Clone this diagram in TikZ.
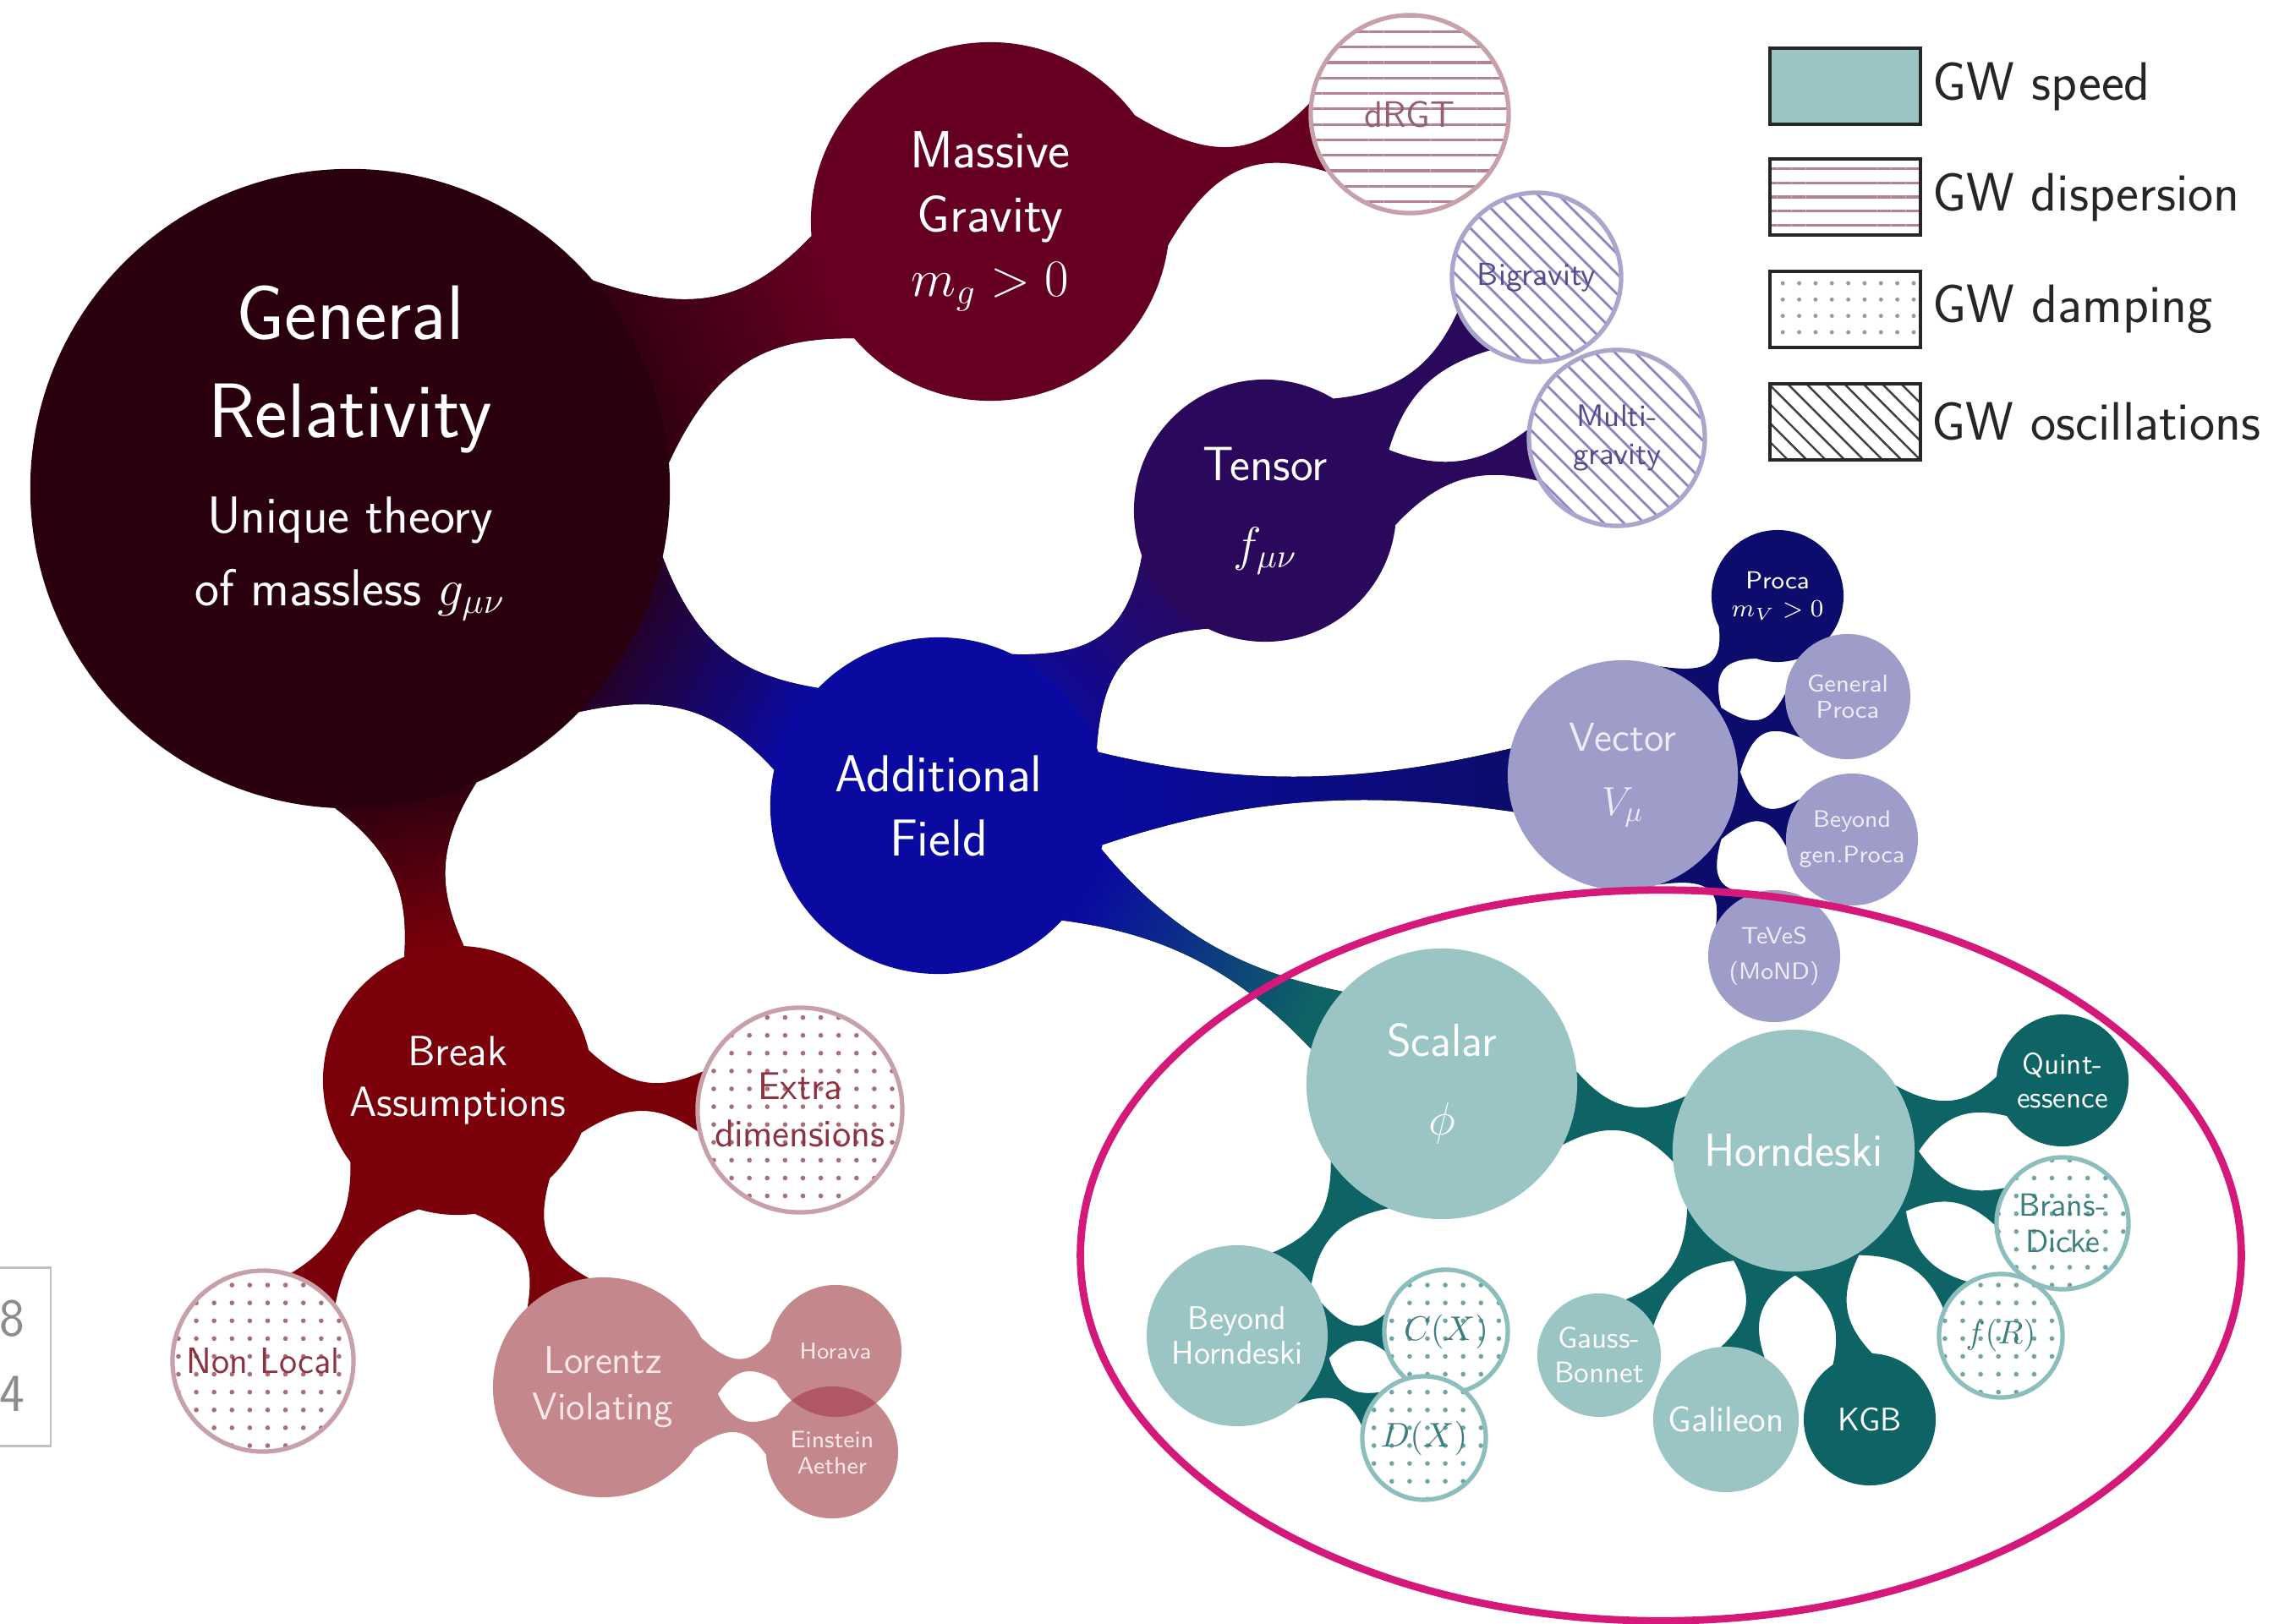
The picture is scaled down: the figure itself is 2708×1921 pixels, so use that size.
\RequirePackage{fix-cm}
\documentclass[tikz,border=0pt]{standalone}
\usetikzlibrary{positioning,calc,backgrounds,patterns.meta}

\definecolor{grc}{RGB}{42,0,16}
\definecolor{mgc}{RGB}{102,0,32}
\definecolor{tnc}{RGB}{42,8,92}
\definecolor{afc}{RGB}{10,10,160}
\definecolor{nvc}{RGB}{12,12,108}
\definecolor{vcc}{RGB}{158,156,200}
\definecolor{slc}{RGB}{155,196,196}
\definecolor{dtc}{RGB}{14,100,100}
\definecolor{bac}{RGB}{122,0,10}
\definecolor{lvc}{RGB}{196,135,140}
\definecolor{lvo}{RGB}{176,88,100}
\definecolor{elc}{RGB}{212,25,122}
% hatching and text colours
\definecolor{rsl}{RGB}{180,130,145}
\definecolor{rsb}{RGB}{200,160,168}
\definecolor{rsd}{RGB}{170,110,120}
\definecolor{hxl}{RGB}{140,135,190}
\definecolor{hxb}{RGB}{170,165,205}
\definecolor{tdd}{RGB}{110,165,165}
\definecolor{tdb}{RGB}{140,190,190}
\definecolor{drt}{RGB}{150,95,110}
\definecolor{bit}{RGB}{85,75,140}
\definecolor{edt}{RGB}{140,50,65}
\definecolor{sct}{RGB}{60,125,125}
\definecolor{lvt}{RGB}{250,232,234}
\definecolor{vct}{RGB}{236,236,248}

\newcommand\fsz[2]{\fontsize{#1}{#2}\selectfont}

% neck between two bubbles: [fill]{from}{to}{width}{spread angle}
\newcommand\neck[5][black]{%
  \fill[#1] let \p1=(#2.center), \p2=(#3.center), \p3=(#2.east), \p4=(#3.east),
    \n1={atan2(\y2-\y1,\x2-\x1)}, \n2={\x3-\x1}, \n3={\x4-\x2},
    \n4={veclen(\x2-\x1,\y2-\y1)-\n2-\n3},
    \n5={(#4/2-(\n2+\n3)*sin(#5)/8)/0.75},
    \n6={\n2+0.35*\n4}, \n7={\n3+0.35*\n4} in
    ({\x1+\n2*cos(\n1+#5)},{\y1+\n2*sin(\n1+#5)})
    .. controls ({\x1+\n6*cos(\n1)-\n5*sin(\n1)},{\y1+\n6*sin(\n1)+\n5*cos(\n1)})
    and ({\x2-\n7*cos(\n1)-\n5*sin(\n1)},{\y2-\n7*sin(\n1)+\n5*cos(\n1)})
    .. ({\x2-\n3*cos(\n1-#5)},{\y2-\n3*sin(\n1-#5)})
    -- ({\x2-\n3*cos(\n1+#5)},{\y2-\n3*sin(\n1+#5)})
    .. controls ({\x2-\n7*cos(\n1)+\n5*sin(\n1)},{\y2-\n7*sin(\n1)-\n5*cos(\n1)})
    and ({\x1+\n6*cos(\n1)+\n5*sin(\n1)},{\y1+\n6*sin(\n1)-\n5*cos(\n1)})
    .. ({\x1+\n2*cos(\n1-#5)},{\y1+\n2*sin(\n1-#5)}) -- cycle;}

\tikzset{
  bub/.style={circle, inner sep=0pt, outer sep=0pt, minimum size=#1},
  txt/.style={align=center, text=white},
  dis/.style={preaction={fill=white}, draw=rsb, line width=1.5pt,
    pattern={Lines[distance=5.2pt, line width=0.9pt]}, pattern color=rsl},
  dmp/.style 2 args={preaction={fill=white}, draw=#2, line width=1.5pt,
    pattern={Dots[distance=6pt, radius=0.8pt]}, pattern color=#1},
  osc/.style={preaction={fill=white}, draw=hxb, line width=1.5pt,
    pattern={Lines[angle=-45, distance=4.8pt, line width=0.8pt]}, pattern color=hxl},
  legbox/.style={rectangle, draw=black!85, line width=1.3pt,
    minimum width=1.78cm, minimum height=0.9cm},
  legtxt/.style={font=\sffamily\fsz{18.2}{20}, text=black!85},
}

\begin{document}
\begin{tikzpicture}[x=0.01cm, y=-0.01cm]
\useasboundingbox (0,0) rectangle (2708,1921);

% general relativity, massive gravity, tensor
\node[bub=7.56cm, fill=grc,
  label={[txt, font=\sffamily\fsz{26}{33}, yshift=1.41cm]center:General\\Relativity},
  label={[txt, font=\sffamily\fsz{17.5}{24.5}, yshift=-0.83cm]center:Unique theory\\of massless $g_{\mu\nu}$}] (gr) at (414,578) {};
\node[bub=4.24cm, fill=mgc, label={[txt, font=\sffamily\fsz{17.6}{21.6}]center:Massive\\Gravity\\$m_g>0$}] (mg) at (1171,262) {};
\node[bub=2.34cm, dis, label={[txt, text=drt, font=\sffamily\fsz{12.4}{14}]center:dRGT}] (drgt) at (1667,135) {};
\node[bub=3.10cm, fill=tnc, label={[txt, font=\sffamily\fsz{16.2}{27}]center:Tensor\\$f_{\mu\nu}$}] (tn) at (1496,604) {};
\node[bub=2.00cm, osc, label={[txt, text=bit, font=\sffamily\fsz{10.7}{12}]center:Bigravity}] (bi) at (1817,328) {};
\node[bub=2.08cm, osc, label={[txt, text=bit, font=\sffamily\fsz{10.5}{13}]center:Multi-\\gravity}] (mu) at (1912,518) {};

% additional field and vector
\node[bub=3.98cm, fill=afc, label={[txt, font=\sffamily\fsz{17.5}{21.6}]center:Additional\\Field}] (af) at (1110,953) {};
\node[bub=2.72cm, fill=vcc, label={[txt, text=vct, font=\sffamily\fsz{13.6}{21.6}]center:Vector\\$V_\mu$}] (vc) at (1919,917) {};
\node[bub=1.56cm, fill=nvc, label={[txt, font=\sffamily\fsz{8.3}{9.5}]center:Proca\\$m_V>0$}] (pr) at (2102,705) {};
\node[bub=1.48cm, fill=vcc, label={[txt, text=vct, font=\sffamily\fsz{8.2}{8.6}]center:General\\Proca}] (gp) at (2185,824) {};
\node[bub=1.56cm, fill=vcc, label={[txt, text=vct, font=\sffamily\fsz{8}{12}]center:Beyond\\gen.Proca}] (bgp) at (2190,993) {};
\node[bub=1.56cm, fill=vcc, label={[txt, text=vct, font=\sffamily\fsz{8}{11.8}]center:TeVeS\\(MoND)}] (tv) at (2098,1131) {};

% scalar
\node[bub=3.20cm, fill=slc, label={[txt, font=\sffamily\fsz{15.6}{26.5}]center:Scalar\\$\phi$}] (sc) at (1705,1282) {};
\node[bub=2.86cm, fill=slc, label={[txt, font=\sffamily\fsz{15.6}{18}]center:Horndeski}] (hd) at (2121,1361) {};
\node[bub=1.56cm, fill=dtc, label={[txt, font=\sffamily\fsz{10}{11.3}]center:Quint-\\essence}] (qu) at (2439,1278) {};
\node[bub=1.56cm, dmp={tdd}{tdb}, label={[txt, text=sct, font=\sffamily\fsz{10.8}{12}]center:Brans-\\Dicke}] (bd) at (2439,1447) {};
\node[bub=1.46cm, dmp={tdd}{tdb}, label={[txt, text=sct, font=\fsz{11}{12}]center:$f(R)$}] (fr) at (2366,1580) {};
\node[bub=1.56cm, fill=dtc, label={[txt, font=\sffamily\fsz{11}{12}]center:KGB}] (kgb) at (2211,1679) {};
\node[bub=1.72cm, fill=slc, label={[txt, font=\sffamily\fsz{12}{13}]center:Galileon}] (gal) at (2041,1679) {};
\node[bub=1.46cm, fill=slc, label={[txt, font=\sffamily\fsz{10}{11.8}]center:Gauss-\\Bonnet}] (gb) at (1891,1603) {};
\node[bub=2.14cm, fill=slc, label={[txt, font=\sffamily\fsz{11}{11.8}]center:Beyond\\Horndeski}] (bh) at (1463,1580) {};
\node[bub=1.46cm, dmp={tdd}{tdb}, label={[txt, text=sct, font=\fsz{11.5}{12}]center:$C(X)$}] (cx) at (1710,1575) {};
\node[bub=1.46cm, dmp={tdd}{tdb}, label={[txt, text=sct, font=\fsz{11.5}{12}]center:$D(X)$}] (dx) at (1684,1701) {};

% break assumptions
\node[bub=3.18cm, fill=bac, label={[txt, font=\sffamily\fsz{14.2}{17}]center:Break\\Assumptions}] (ba) at (541,1278) {};
\node[bub=2.42cm, dmp={rsd}{rsb}, label={[txt, text=edt, font=\sffamily\fsz{13}{15.7}]center:Extra\\dimensions}] (ed) at (946,1313) {};
\node[bub=2.14cm, dmp={rsd}{rsb}, label={[txt, text=edt, font=\sffamily\fsz{12.3}{14}]center:Non Local}] (nl) at (311,1610) {};
\node[bub=2.60cm, fill=lvc, label={[txt, text=lvt, font=\sffamily\fsz{13}{15.5}]center:Lorentz\\Violating}] (lv) at (713,1641) {};
\node[bub=1.56cm, fill=lvc, label={[txt, text=lvt, font=\sffamily\fsz{7.7}{9}]center:Horava}] (hv) at (988,1598) {};
\node[bub=1.56cm, fill=lvc, label={[txt, text=lvt, font=\sffamily\fsz{8}{8.8}]center:Einstein\\Aether}] (ea) at (984,1718) {};
\begin{scope}
  \clip (hv.center) circle [radius=0.78cm];
  \fill[lvo] (ea.center) circle [radius=0.78cm];
\end{scope}

% necks
\begin{scope}[on background layer]
  \fill[white] (0,0) rectangle (2708,1921);
  \neck[bottom color=grc, top color=mgc, shading angle=-67]{gr}{mg}{0.85cm}{18}
  \neck[bottom color=grc, top color=afc, shading angle=-118]{gr}{af}{0.8cm}{16}
  \neck[bottom color=grc, top color=bac, shading angle=-170]{gr}{ba}{0.6cm}{13}
  \neck[mgc]{mg}{drgt}{0.28cm}{22}
  \neck[bottom color=afc, top color=tnc, shading angle=-48]{af}{tn}{0.4cm}{22}
  \neck[bottom color=afc, top color=nvc, shading angle=-87.5]{af}{vc}{0.3cm}{16}
  \neck[bottom color=afc, top color=dtc, shading angle=-119]{af}{sc}{0.24cm}{14}
  \neck[tnc]{tn}{bi}{0.22cm}{18}
  \neck[tnc]{tn}{mu}{0.22cm}{18}
  \foreach \k in {pr,gp,bgp,tv} {\neck[nvc]{vc}{\k}{0.18cm}{22}}
  \neck[dtc]{sc}{hd}{0.3cm}{16}
  \neck[dtc]{sc}{bh}{0.26cm}{16}
  \foreach \k in {cx,dx} {\neck[dtc]{bh}{\k}{0.18cm}{20}}
  \foreach \k in {qu,bd,fr,kgb,gal,gb} {\neck[dtc]{hd}{\k}{0.2cm}{18}}
  \foreach \k in {ed,nl,lv} {\neck[bac]{ba}{\k}{0.34cm}{18}}
  \foreach \k in {hv,ea} {\neck[lvc]{lv}{\k}{0.16cm}{18}}
\end{scope}

% highlight
\draw[elc, line width=2.5pt] (1964,1485) ellipse [x radius=6.86cm, y radius=4.32cm];

% legend
\node[legbox, fill=slc] (lspd) at (2182,102) {};
\node[legtxt, right=0pt of lspd] (tspd) {GW speed};
\node[legbox, preaction={fill=white}, pattern={Lines[distance=4.8pt, line width=0.9pt]}, pattern color=rsl] (ldis) at (2182,233) {};
\node[legtxt, right=0pt of ldis] (tdis) {GW dispersion};
\node[legbox, preaction={fill=white}, pattern={Dots[distance=5.5pt, radius=0.7pt]}, pattern color=black!40] (ldmp) at (2182,366) {};
\node[legtxt, right=0pt of ldmp] (tdmp) {GW damping};
\node[legbox, preaction={fill=white}, pattern={Lines[angle=-45, distance=4.5pt, line width=0.7pt]}, pattern color=black!75] (losc) at (2182,499) {};
\node[legtxt, right=0pt of losc] (tosc) {GW oscillations};

% cut-off page box at the left edge
\node[draw=black!25, line width=0.8pt, minimum width=1.2cm, minimum height=2.11cm] (pg) at (0,1605) {};
\node[font=\sffamily\fsz{18}{20}, text=black!45] (pga) at (14,1560) {8};
\node[font=\sffamily\fsz{18}{20}, text=black!45] (pgb) at (14,1649) {4};
\end{tikzpicture}
\end{document}
